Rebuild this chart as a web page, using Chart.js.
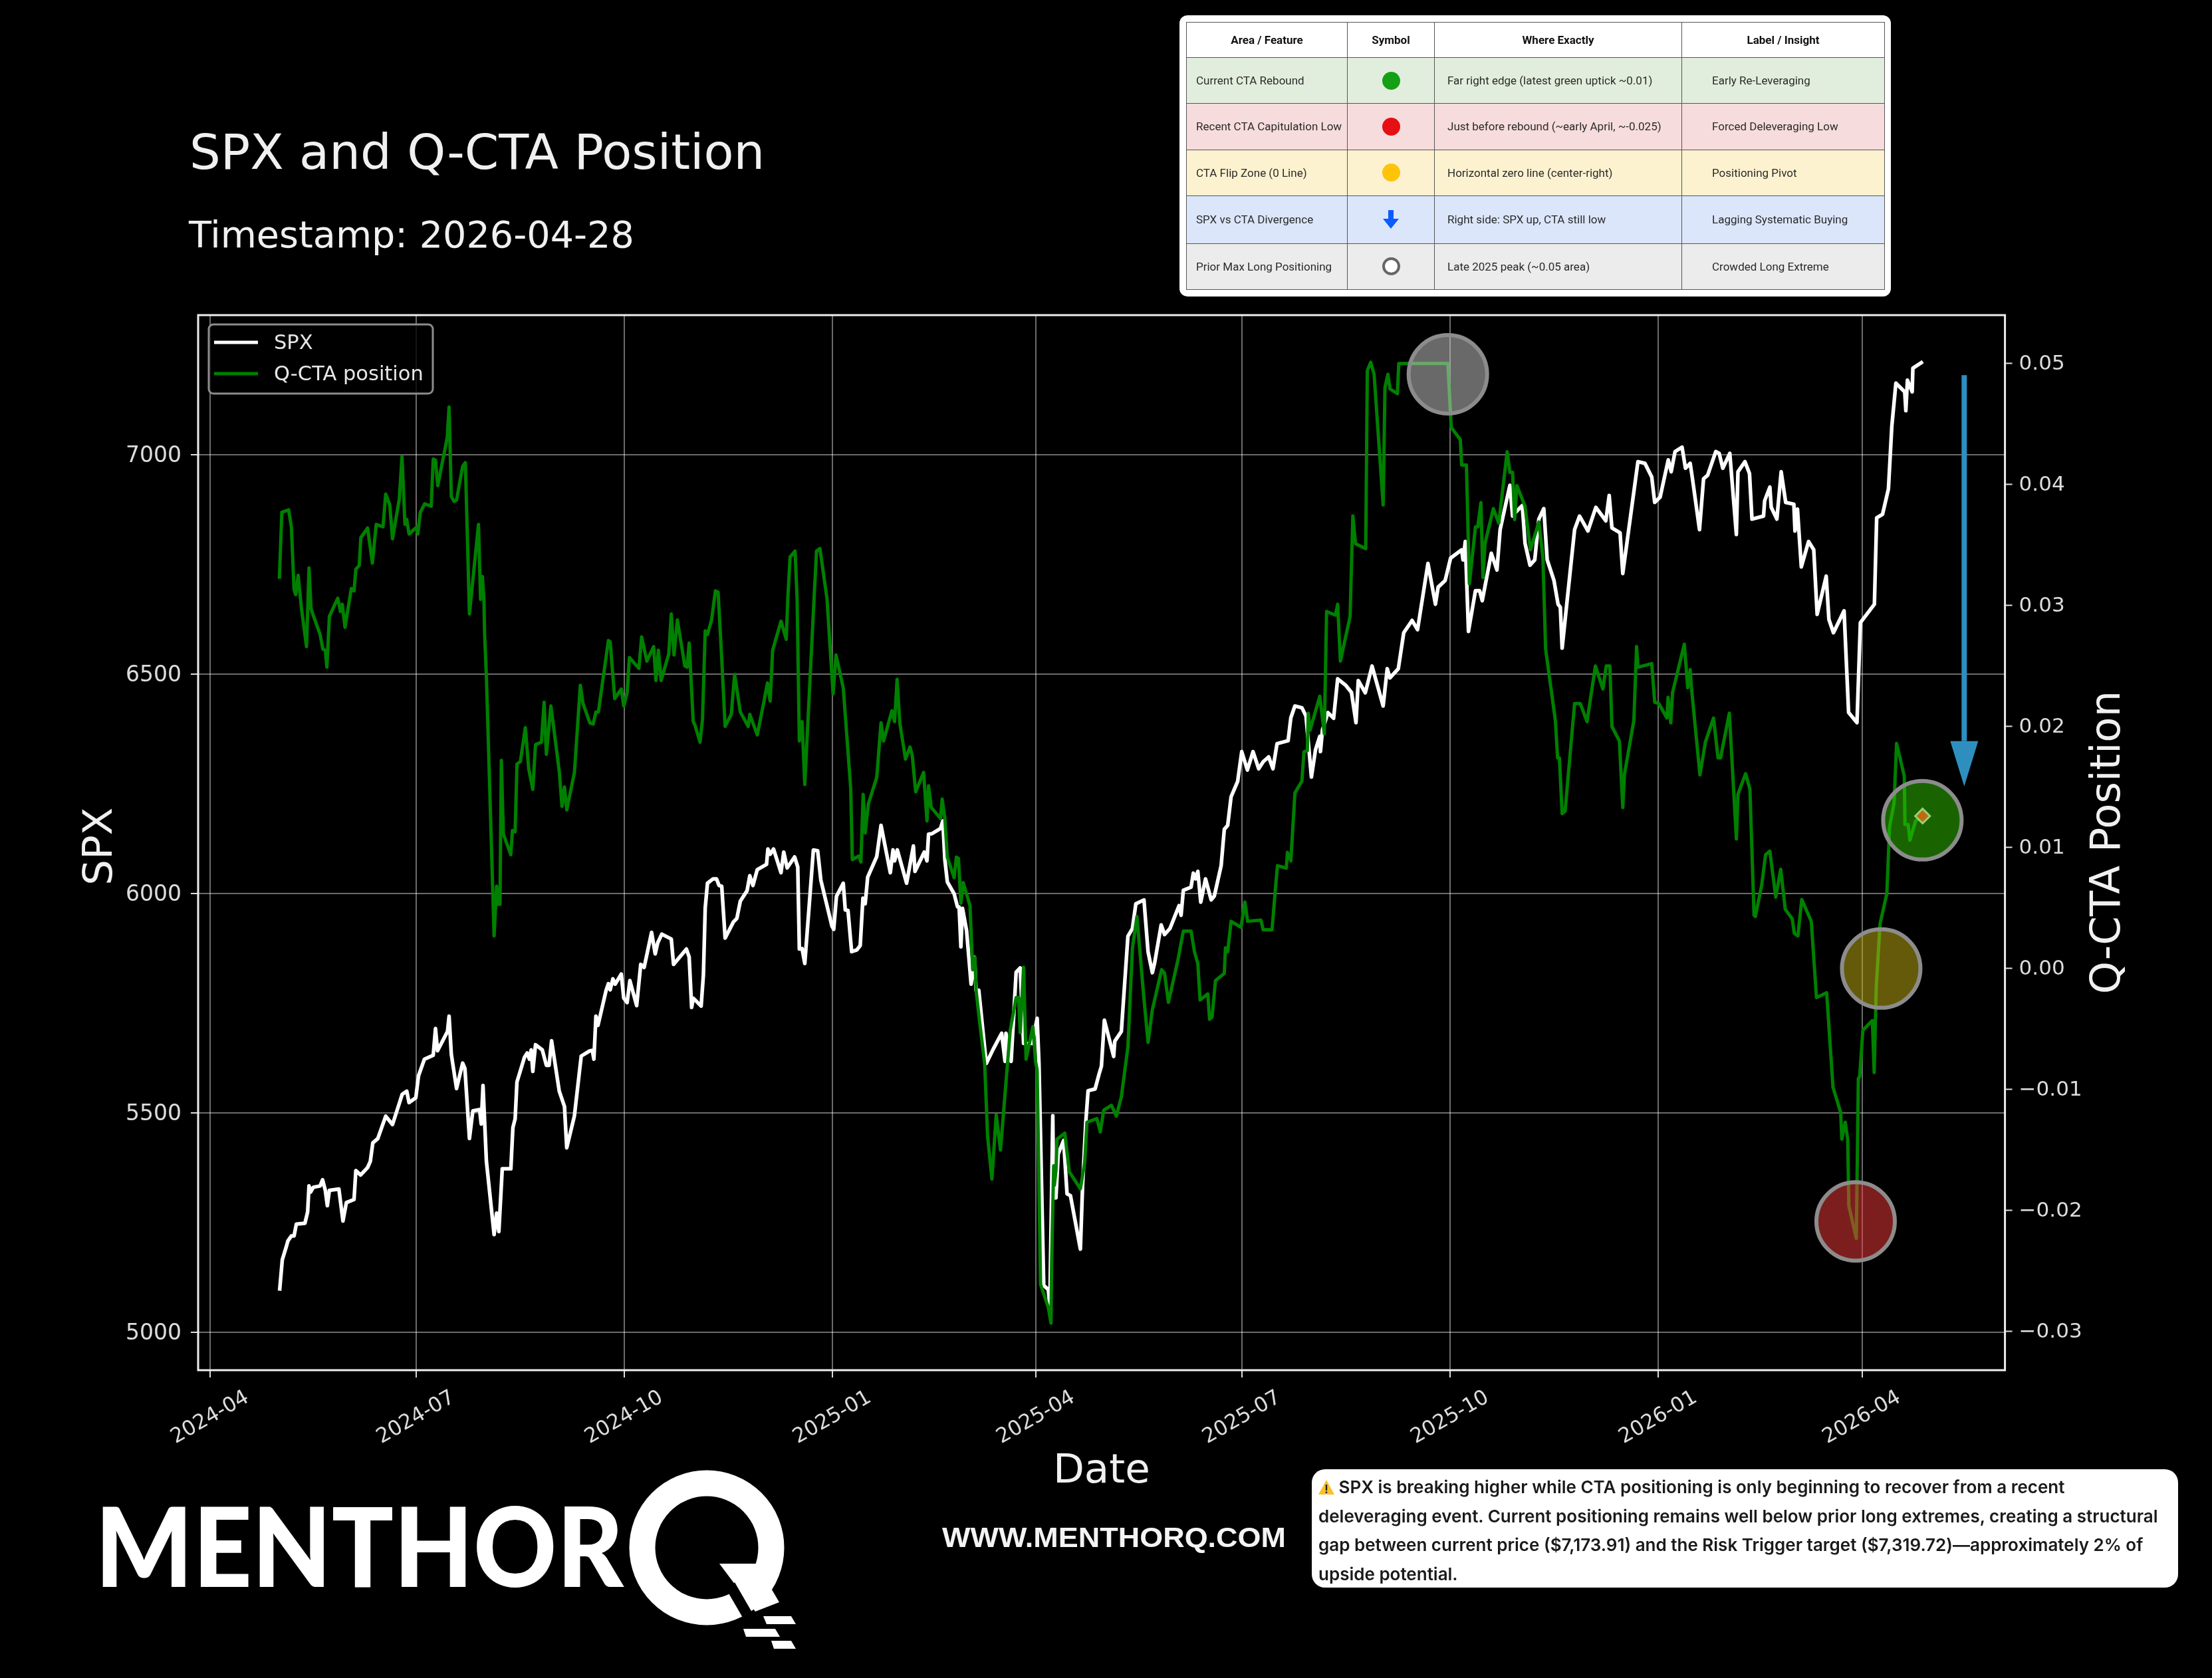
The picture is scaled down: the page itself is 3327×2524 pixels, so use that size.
<!DOCTYPE html>
<html>
<head>
<meta charset="utf-8">
<title>SPX and Q-CTA Position</title>
<script src="https://cdn.jsdelivr.net/npm/chart.js@4/dist/chart.umd.min.js"></script>
<style>
    html, body { margin: 0; background: #000; }
    #page { position: relative; width: 3327px; height: 2524px; overflow: hidden; background: #000; }
    #chart { position: absolute; left: 0; top: 0; }
    #overlay { position: absolute; left: 0; top: 0; }

    /* Legend table at the top right */
    #tableBox { position: absolute; left: 1774px; top: 23px; width: 1070px; height: 423px; background: #fff; border-radius: 12px; }
    #tableBox table { position: absolute; left: 10px; top: 10px; width: 1050px; height: 403px; border-collapse: collapse; table-layout: fixed; font: 17px Roboto, sans-serif; color: #2a2a2a; }
    #tableBox td, #tableBox th { border: 1.5px solid #555; padding: 0; white-space: nowrap; }
    #tableBox th { font-weight: 700; color: #111; text-align: center; height: 52px; background: #fff; }
    #tableBox td:nth-child(1) { padding-left: 14px; }
    #tableBox td:nth-child(2) { text-align: center; }
    #tableBox td:nth-child(3) { padding-left: 19px; }
    #tableBox td:nth-child(4) { padding-left: 45px; }
    .dot { display: inline-block; width: 27px; height: 27px; border-radius: 50%; vertical-align: middle; box-sizing: border-box; }
    .rowGreen td { background: #e2eedd; }
    .rowRed td { background: #f7dcdd; }
    .rowYellow td { background: #fdf2d0; }
    .rowBlue td { background: #dbe6fb; }
    .rowGrey td { background: #ececec; }

    /* Comment box at the bottom right */
    #note { position: absolute; left: 1973px; top: 2210px; width: 1303px; height: 178px; background: #fff; border-radius: 20px; }
    #note div { position: absolute; left: 10px; top: 5px; font: 600 26px/43.7px Inter, sans-serif; color: #1a1a1a; white-space: nowrap; }
</style>
</head>
<body>
<div id="page">
    <canvas id="chart" width="3327" height="2524"></canvas>

    <svg id="overlay" width="3327" height="2524" xmlns="http://www.w3.org/2000/svg">
        <text x="285" y="254" fill="#f0f0f0" font-family="DejaVu Sans" font-size="73.7">SPX and Q-CTA Position</text>
        <text x="284" y="372" fill="#f0f0f0" font-family="DejaVu Sans" font-size="55.6">Timestamp: 2026-04-28</text>

        <!-- MenthorQ logo -->
        <text x="143" y="2387" fill="#fff" font-family="Lato" font-weight="900" font-size="165" textLength="795" lengthAdjust="spacingAndGlyphs">MENTHOR</text>
        <circle cx="1063" cy="2328" r="97" fill="none" stroke="#fff" stroke-width="39"/>
        <polygon points="1082,2352 1138,2352 1172,2410 1136,2424" fill="#fff"/>
        <polygon points="1095,2395 1105,2380 1142,2444 1128,2452" fill="#000"/>
        <polygon points="1148,2431 1190,2431 1197,2443 1153,2443" fill="#fff"/>
        <polygon points="1118,2450 1166,2450 1173,2462 1122,2462" fill="#fff"/>
        <polygon points="1160,2468 1190,2468 1197,2480 1164,2480" fill="#fff"/>

        <text x="1417" y="2327" fill="#f4f4f4" font-family="Liberation Sans" font-weight="700" font-size="43" textLength="517" lengthAdjust="spacingAndGlyphs">WWW.MENTHORQ.COM</text>
    </svg>

    <div id="tableBox">
        <table>
            <colgroup><col style="width:242px"><col style="width:131px"><col style="width:372px"><col style="width:305px"></colgroup>
            <tr><th>Area / Feature</th><th>Symbol</th><th>Where Exactly</th><th>Label / Insight</th></tr>
            <tr class="rowGreen"><td>Current CTA Rebound</td><td><span class="dot" style="background:#14a014"></span></td><td>Far right edge (latest green uptick ~0.01)</td><td>Early Re-Leveraging</td></tr>
            <tr class="rowRed"><td>Recent CTA Capitulation Low</td><td><span class="dot" style="background:#e60f14"></span></td><td>Just before rebound (~early April, ~-0.025)</td><td>Forced Deleveraging Low</td></tr>
            <tr class="rowYellow"><td>CTA Flip Zone (0 Line)</td><td><span class="dot" style="background:#ffc30a"></span></td><td>Horizontal zero line (center-right)</td><td>Positioning Pivot</td></tr>
            <tr class="rowBlue"><td>SPX vs CTA Divergence</td><td><svg width="26" height="28" style="vertical-align:middle"><polygon points="9,0 17,0 17,13 25,13 13,28 1,13 9,13" fill="#0b5cff"/></svg></td><td>Right side: SPX up, CTA still low</td><td>Lagging Systematic Buying</td></tr>
            <tr class="rowGrey"><td>Prior Max Long Positioning</td><td><span class="dot" style="background:#fff;border:4px solid #666"></span></td><td>Late 2025 peak (~0.05 area)</td><td>Crowded Long Extreme</td></tr>
        </table>
    </div>

    <div id="note">
        <div><svg width="24" height="24" viewBox="0 0 24 24" style="vertical-align:-3px"><polygon points="12,1 24,23 0,23" fill="#fbc02d"/><rect x="10.8" y="8" width="2.4" height="9" fill="#222"/><rect x="10.8" y="18.5" width="2.4" height="2.5" fill="#222"/></svg> SPX is breaking higher while CTA positioning is only beginning to recover from a recent<br>
        deleveraging event. Current positioning remains well below prior long extremes, creating a structural<br>
        gap between current price ($7,173.91) and the Risk Trigger target ($7,319.72)—approximately 2% of<br>
        upside potential.</div>
    </div>
</div>

<script>
// Days are counted from 2024-04-01
const xTickDays = [0, 91, 183, 275, 365, 456, 548, 640, 730];
const xTickLabels = ['2024-04', '2024-07', '2024-10', '2025-01', '2025-04', '2025-07', '2025-10', '2026-01', '2026-04'];
const spxTicks = [5000, 5500, 6000, 6500, 7000];
const ctaTicks = [-0.03, -0.02, -0.01, 0, 0.01, 0.02, 0.03, 0.04, 0.05];

const spxDays = [30.7, 31.9, 33.8, 34.4, 35.9, 37.1, 38.1, 41.9, 43.1, 43.7, 44.4, 45.6, 48.6, 49.7, 50.9, 51.8, 52.7, 56.9, 58.7, 60.2, 63.6, 64.4, 66.5, 69.6, 70.8, 71.9, 74.1, 77.6, 80.6, 84.9, 86.9, 87.9, 90.9, 92.1, 94.7, 98.6, 99.6, 100.5, 104.9, 105.6, 106.6, 108.9, 111.6, 112.6, 114.6, 116.1, 119.1, 119.8, 120.6, 122.1, 125.5, 126.6, 127.6, 129.1, 132.9, 133.8, 134.8, 135.6, 138.9, 140.1, 141.1, 141.9, 142.6, 143.8, 146.8, 148.6, 149.8, 150.9, 154.3, 156.6, 157.6, 161, 164, 167.8, 168.9, 169.6, 170.5, 171.4, 175, 176, 176.8, 178, 179, 181.7, 182.8, 184.3, 185.5, 188.5, 190.3, 191.8, 195.1, 196.7, 197.8, 199.6, 203.8, 204.8, 210.5, 211.7, 212.8, 213.5, 217, 218, 218.8, 219.8, 222.3, 223.8, 224.9, 226.1, 227.6, 231.3, 232.8, 234.3, 237.3, 238.5, 239.9, 241.8, 245.9, 246.5, 247.5, 249, 252.3, 253.5, 255, 258.3, 259.7, 260.4, 261.6, 262.8, 264.6, 266.6, 268.5, 269.9, 274.8, 275.6, 276.8, 279.8, 280.7, 281.9, 283.5, 285.8, 287.3, 288.5, 289.5, 290.6, 294.6, 296.5, 300.6, 301.8, 302.5, 303.7, 307.8, 310.8, 311.5, 315.6, 316.8, 317.5, 319, 322.8, 323.8, 324.7, 325.8, 328.8, 330.3, 331, 331.8, 332.5, 334.3, 336.3, 337.8, 338.5, 339.7, 343, 346, 349.8, 351.3, 351.7, 354, 356.2, 358, 359.5, 363.3, 365.5, 366.3, 368.4, 370.4, 371.1, 372.4, 372.8, 373.8, 374.8, 377.2, 378.7, 380.2, 384.6, 385.6, 387, 388, 391.1, 392.9, 393.9, 395.2, 399.3, 399.8, 402.7, 405.6, 407.6, 409.1, 412.7, 414.5, 416.4, 417.4, 420.3, 421.8, 424.2, 428.2, 429.1, 430.1, 433.5, 434.5, 435.5, 436.5, 437.8, 439.9, 442.4, 443.8, 446.8, 448.2, 449.7, 451.2, 454.1, 455.9, 458.4, 460.9, 463.4, 465.4, 467.8, 469.7, 471.5, 476.4, 477.6, 479.4, 482.5, 484.3, 486.7, 488.5, 490.4, 490.7, 491.6, 494, 496.5, 498.3, 501.9, 504.4, 506.4, 507.4, 510.5, 513.5, 518.4, 520.2, 521.4, 525.1, 527.5, 531.2, 533.6, 538.2, 541.5, 542.7, 545.8, 548.2, 553.1, 553.7, 554.7, 556.1, 559.2, 561, 562.2, 566.2, 568.7, 570.1, 574.4, 575.6, 576.8, 579.9, 581.1, 583.3, 585.4, 587.2, 589.4, 590.9, 593.9, 595.7, 596.7, 597.5, 603, 605.2, 608.9, 612.4, 616.8, 618.3, 619.5, 623.1, 624.3, 631, 634.1, 637.1, 638.4, 640.8, 644.4, 645.7, 647.4, 650.5, 652, 654.1, 655.1, 658.2, 660, 661.8, 665.4, 666.9, 668.5, 671.6, 674.5, 675.2, 678.3, 680.3, 681.4, 686.5, 687, 689.3, 689.9, 692.4, 694.3, 696.3, 699.9, 700.4, 701.5, 703.2, 706.4, 708.7, 710.2, 714.2, 715.4, 717.4, 722.1, 724.1, 727.8, 729.3, 735.5, 736.5, 739.1, 741.7, 743.2, 745, 748.9, 749.4, 750.1, 752.2, 752.5, 756.9];
const spxValues = [5094, 5165, 5197, 5208, 5219, 5219, 5246, 5248, 5274, 5333, 5319, 5330, 5333, 5347, 5323, 5288, 5323, 5326, 5253, 5295, 5302, 5368, 5358, 5375, 5389, 5431, 5441, 5492, 5473, 5542, 5549, 5523, 5534, 5584, 5622, 5631, 5692, 5641, 5685, 5720, 5633, 5555, 5613, 5601, 5441, 5504, 5507, 5474, 5562, 5389, 5222, 5271, 5229, 5372, 5372, 5466, 5486, 5570, 5626, 5636, 5622, 5643, 5594, 5655, 5643, 5608, 5608, 5664, 5549, 5514, 5420, 5493, 5629, 5641, 5642, 5622, 5720, 5699, 5779, 5794, 5780, 5805, 5793, 5816, 5761, 5751, 5801, 5744, 5838, 5831, 5911, 5862, 5887, 5907, 5896, 5838, 5873, 5855, 5740, 5761, 5743, 5814, 5967, 6023, 6033, 6033, 6018, 6016, 5898, 5935, 5943, 5982, 6006, 6040, 6018, 6054, 6066, 6101, 6089, 6101, 6047, 6094, 6058, 6083, 6060, 5873, 5874, 5840, 5962, 6099, 6097, 6030, 5925, 5918, 5993, 6023, 5962, 5961, 5867, 5871, 5881, 5989, 5976, 6037, 6084, 6155, 6047, 6099, 6074, 6099, 6023, 6108, 6050, 6094, 6074, 6135, 6136, 6148, 6165, 6077, 6026, 5999, 5969, 5969, 5878, 5966, 5915, 5793, 5854, 5779, 5779, 5612, 5644, 5681, 5617, 5681, 5617, 5820, 5830, 5658, 5658, 5715, 5612, 5106, 5097, 5060, 5493, 5306, 5306, 5406, 5437, 5315, 5311, 5189, 5337, 5480, 5550, 5554, 5589, 5606, 5711, 5628, 5663, 5685, 5902, 5920, 5976, 5985, 5867, 5819, 5841, 5928, 5906, 5920, 5972, 5950, 6007, 6014, 6046, 6033, 6050, 5980, 6033, 5985, 5994, 6063, 6146, 6155, 6220, 6255, 6323, 6281, 6323, 6284, 6300, 6311, 6284, 6341, 6348, 6400, 6427, 6423, 6404, 6265, 6327, 6358, 6323, 6373, 6412, 6399, 6489, 6474, 6458, 6389, 6485, 6457, 6518, 6427, 6512, 6491, 6512, 6594, 6622, 6601, 6752, 6659, 6698, 6713, 6764, 6783, 6760, 6802, 6597, 6690, 6690, 6667, 6775, 6737, 6829, 6930, 6860, 6868, 6884, 6798, 6748, 6760, 6853, 6877, 6760, 6713, 6659, 6652, 6559, 6829, 6860, 6826, 6880, 6849, 6907, 6833, 6822, 6729, 6984, 6980, 6949, 6891, 6903, 6988, 6961, 7007, 7017, 6969, 6980, 6945, 6829, 6945, 6953, 7007, 7003, 6969, 7003, 6818, 6961, 6984, 6957, 6853, 6860, 6895, 6926, 6880, 6853, 6961, 6891, 6887, 6826, 6876, 6744, 6802, 6783, 6636, 6723, 6624, 6594, 6644, 6412, 6389, 6617, 6659, 6856, 6864, 6922, 7065, 7163, 7143, 7100, 7170, 7143, 7197, 7212];

const ctaDays = [30.6, 31.7, 34.7, 35.9, 37.1, 37.8, 38.9, 40.4, 42.6, 43.7, 44.6, 48.6, 49.8, 50.9, 51.6, 52.7, 56.4, 57.6, 58.4, 59.6, 62.4, 63.6, 64.4, 65.9, 66.6, 69.6, 71.7, 73.4, 76.4, 77.6, 79.4, 80.6, 83.6, 84.8, 86.1, 86.9, 87.9, 91.4, 91.8, 92.9, 94.8, 97.7, 98.6, 99.6, 100.6, 104.8, 105.6, 106.6, 107.8, 108.9, 111.6, 112.8, 114.6, 118.6, 119.5, 120.3, 121, 121.3, 122.1, 125.5, 126.6, 127.3, 128.1, 128.7, 129.6, 132.9, 133.6, 134.8, 135.6, 137.1, 139.3, 140.8, 142.6, 143.8, 146.4, 147.6, 148.6, 150.6, 154.3, 155.5, 156.6, 157.6, 161, 163.6, 164.8, 167.8, 169.3, 170.5, 171.6, 176, 176.8, 178.8, 181.7, 182.8, 184.3, 185.3, 189.5, 190.7, 193, 196, 197, 198.1, 199.3, 202.7, 203.8, 205, 206.5, 209.8, 210.8, 211.7, 213.5, 214.3, 216.5, 217.6, 218.8, 219.8, 221.6, 223.3, 224.5, 226.1, 227.6, 230.3, 231.8, 234.3, 237.8, 238.5, 241.8, 244.8, 246.3, 247.5, 248.6, 252.3, 254.6, 255.3, 256.3, 258.5, 259.4, 260.4, 261.6, 262.8, 266.9, 268, 269.5, 272.6, 275.3, 276.6, 279.8, 283.1, 283.8, 286.8, 287.6, 288.6, 289.5, 290.9, 294.6, 296.5, 297.6, 301.3, 302.5, 303.6, 304.8, 307.3, 309.3, 310.3, 311.8, 315.3, 316.8, 317.5, 318.7, 322.8, 323.5, 324.7, 325.8, 328.8, 329.8, 330.7, 331.8, 332.8, 335.8, 337, 338, 338.5, 340, 342.3, 343.6, 345.5, 347.4, 349.3, 351.8, 353.6, 356.2, 357.3, 358, 359.5, 360.6, 363.6, 364.8, 365.5, 367, 370.4, 371.6, 371.9, 372.8, 373.1, 373.8, 374.3, 377.7, 379.7, 384.6, 386.5, 387.5, 391.9, 393.4, 394.9, 398.3, 400.5, 402.7, 405.6, 407.6, 409.6, 412.5, 414.5, 416.4, 420.5, 421.8, 423.5, 427.7, 430.1, 433.5, 435, 436.5, 437.5, 440.9, 441.7, 442.8, 444.3, 448.2, 448.7, 449.7, 451.2, 455.6, 457.3, 458.5, 464.4, 465.4, 469.3, 470.7, 471.7, 475.6, 476.1, 477.6, 479.4, 482.5, 483.4, 484.9, 485.3, 486.1, 490.4, 492.4, 493.4, 497.3, 498.3, 499.5, 503.8, 505, 506.2, 510.7, 511.4, 512.9, 514.4, 518.4, 519.2, 520.5, 521.4, 524.7, 525.3, 547, 548.5, 552.5, 553.1, 555.2, 556.5, 559.2, 560.2, 561.6, 562.5, 563.4, 567.1, 569.5, 573.2, 574.4, 575.6, 576.5, 577.5, 581.1, 583.5, 587.2, 589, 590.2, 594.5, 595.5, 596.3, 597.5, 598.8, 603, 605.5, 608.5, 612.2, 615.5, 617, 618.6, 619.5, 622.8, 624.3, 625, 629.2, 630.4, 631, 637.1, 638.4, 640.2, 641.7, 643.8, 644.3, 645.5, 646.3, 651.5, 653, 654.1, 654.6, 658.4, 660.8, 664.4, 666.4, 667.5, 671.4, 674.5, 675.2, 678.6, 680.5, 682.3, 682.9, 685.7, 687.4, 689.3, 691.9, 694.1, 696.1, 699.2, 700.1, 701.7, 703.4, 707.6, 709.9, 714.4, 717.2, 720.6, 721.1, 722.6, 723.7, 724.2, 727.5, 728.4, 729, 730.4, 734.6, 735.4, 736.3, 738, 741, 742.2, 744.2, 745.3, 748.7, 749, 750.4, 751.2, 753.7, 756.8];
const ctaValues = [0.0322, 0.0377, 0.0379, 0.0365, 0.0313, 0.0309, 0.0325, 0.0297, 0.0266, 0.0331, 0.0297, 0.0276, 0.0264, 0.0263, 0.0249, 0.0291, 0.0306, 0.0295, 0.0301, 0.0282, 0.0314, 0.0312, 0.033, 0.0333, 0.0356, 0.0364, 0.0335, 0.0367, 0.0365, 0.0392, 0.0383, 0.0355, 0.0388, 0.0423, 0.0367, 0.0371, 0.0359, 0.0365, 0.0359, 0.0377, 0.0384, 0.0382, 0.0421, 0.042, 0.0399, 0.0439, 0.0464, 0.039, 0.0386, 0.0387, 0.0415, 0.0418, 0.0293, 0.0367, 0.0305, 0.0324, 0.0305, 0.0277, 0.0241, 0.0027, 0.0068, 0.0053, 0.0053, 0.0172, 0.0111, 0.0094, 0.0114, 0.0113, 0.0169, 0.0171, 0.0199, 0.0165, 0.0148, 0.0185, 0.0187, 0.022, 0.0177, 0.0217, 0.0163, 0.0134, 0.015, 0.0131, 0.0162, 0.0234, 0.0219, 0.0203, 0.0202, 0.0212, 0.0212, 0.0271, 0.027, 0.0223, 0.0231, 0.0217, 0.0228, 0.0257, 0.0248, 0.0274, 0.0254, 0.0266, 0.0238, 0.0263, 0.0238, 0.026, 0.0293, 0.0259, 0.0288, 0.025, 0.0249, 0.0269, 0.0204, 0.0201, 0.0187, 0.0206, 0.0279, 0.0276, 0.0288, 0.0312, 0.0311, 0.0256, 0.02, 0.021, 0.0243, 0.0212, 0.02, 0.021, 0.0193, 0.0221, 0.0236, 0.0221, 0.0263, 0.0287, 0.0272, 0.0306, 0.034, 0.0345, 0.0306, 0.0188, 0.0204, 0.0152, 0.0306, 0.0345, 0.0347, 0.0306, 0.0227, 0.0259, 0.0232, 0.0149, 0.009, 0.0093, 0.0088, 0.0144, 0.0112, 0.0136, 0.0158, 0.0203, 0.0188, 0.0213, 0.0204, 0.0239, 0.0203, 0.0173, 0.0183, 0.0176, 0.0146, 0.0162, 0.0122, 0.0151, 0.0133, 0.0124, 0.014, 0.0124, 0.0092, 0.0075, 0.0092, 0.0091, 0.0054, 0.0071, 0.0052, -0.0001, 0.0009, -0.0018, -0.0043, -0.0079, -0.0139, -0.0174, -0.0121, -0.015, -0.0092, -0.0051, -0.0024, -0.0024, -0.0053, 0.0001, -0.0075, -0.0048, -0.0077, -0.0084, -0.0261, -0.028, -0.0293, -0.0242, -0.0163, -0.0179, -0.0167, -0.0141, -0.0136, -0.0168, -0.0182, -0.016, -0.0127, -0.0124, -0.0135, -0.0117, -0.0113, -0.0122, -0.0106, -0.0065, 0.0017, 0.0043, -0.0021, -0.0061, -0.0034, -0.0001, -0.0004, -0.0028, 0.0007, 0.0031, 0.0031, 0.0014, 0.0004, -0.0026, -0.0021, -0.0042, -0.004, -0.001, -0.0004, 0.0017, 0.0014, 0.0039, 0.0034, 0.0055, 0.0039, 0.004, 0.0032, 0.0032, 0.0064, 0.0085, 0.0083, 0.0096, 0.0089, 0.0145, 0.0155, 0.0179, 0.018, 0.0211, 0.0197, 0.0225, 0.0194, 0.0295, 0.0292, 0.0301, 0.0254, 0.0291, 0.0374, 0.0351, 0.0347, 0.0494, 0.0501, 0.0491, 0.0383, 0.048, 0.0491, 0.0479, 0.0475, 0.05, 0.05, 0.0447, 0.0437, 0.0416, 0.0416, 0.0318, 0.0365, 0.0365, 0.0385, 0.0323, 0.0351, 0.038, 0.0368, 0.0427, 0.041, 0.041, 0.0371, 0.0399, 0.0382, 0.0346, 0.0369, 0.034, 0.0264, 0.0205, 0.0174, 0.0174, 0.0128, 0.013, 0.0219, 0.0219, 0.0204, 0.025, 0.0231, 0.025, 0.025, 0.02, 0.0188, 0.0133, 0.016, 0.0205, 0.0266, 0.0249, 0.0252, 0.022, 0.0219, 0.0214, 0.0207, 0.0224, 0.0203, 0.0228, 0.0268, 0.0232, 0.0247, 0.0233, 0.016, 0.0187, 0.0207, 0.0174, 0.0174, 0.0211, 0.0107, 0.0144, 0.0161, 0.0148, 0.0044, 0.0043, 0.0069, 0.0094, 0.0097, 0.0059, 0.0082, 0.0049, 0.0041, 0.0029, 0.0027, 0.0057, 0.0039, -0.0024, -0.002, -0.0098, -0.0119, -0.0141, -0.0127, -0.0141, -0.0196, -0.0223, -0.0091, -0.0089, -0.0051, -0.0043, -0.0086, -0.0016, 0.0037, 0.0062, 0.0117, 0.0137, 0.0186, 0.0159, 0.0119, 0.0119, 0.0106, 0.0122, 0.0126];

// Highlight circles: prior max, capitulation low, flip zone, current rebound
const markerDays = [547, 727.2, 738.5, 756.7];
const markerValues = [0.0491, -0.0209, 0, 0.01225];
const markerColors = ['rgba(210,210,210,0.5)', 'rgba(250,60,60,0.5)', 'rgba(200,180,20,0.5)', 'rgba(50,200,0,0.5)'];
const latestDay = [756.8];
const latestValue = [0.0126];

// Divergence arrow on the Q-CTA axis
const arrowDay = 775.2;
const arrowTop = 0.04903;
const arrowHeadBase = 0.01879;
const arrowTip = 0.01505;

const toPoints = (xs, ys) => xs.map((x, i) => ({ x: x, y: ys[i] }));

const tickColor = '#dcdcdc';
const gridColor = 'rgba(255,255,255,0.42)';
const plotTop = 474;
const plotBottom = 2061;
const plotLeft = 298;
const plotRight = 3015.6;

// Both side titles read upwards, Chart.js would turn the right one the other way
function drawSideTitle(ctx, text, x, y, size) {
    ctx.save();
    ctx.translate(x, y);
    ctx.rotate(-Math.PI / 2);
    ctx.font = size + 'px "DejaVu Sans"';
    ctx.fillStyle = '#f0f0f0';
    ctx.textAlign = 'center';
    ctx.textBaseline = 'middle';
    ctx.fillText(text, 0, 0);
    ctx.restore();
}

// Frame, arrow, side titles and the boxed legend
const extras = {
    id: 'extras',
    beforeDatasetsDraw(chart) {
        const ctx = chart.ctx;
        const area = chart.chartArea;
        ctx.save();
        ctx.strokeStyle = '#eeeeee';
        ctx.lineWidth = 3;
        ctx.strokeRect(area.left, area.top, area.width, area.height);
        ctx.restore();
    },
    afterDatasetsDraw(chart) {
        const ctx = chart.ctx;
        const x = chart.scales.x.getPixelForValue(arrowDay);
        const y1 = chart.scales.y1;

        ctx.save();
        ctx.fillStyle = '#2e8fbf';
        ctx.fillRect(x - 4, y1.getPixelForValue(arrowTop), 8, y1.getPixelForValue(arrowHeadBase) - y1.getPixelForValue(arrowTop));
        ctx.beginPath();
        ctx.moveTo(x - 21, y1.getPixelForValue(arrowHeadBase));
        ctx.lineTo(x + 21, y1.getPixelForValue(arrowHeadBase));
        ctx.lineTo(x, y1.getPixelForValue(arrowTip));
        ctx.closePath();
        ctx.fill();
        ctx.restore();

        // Legend box
        ctx.save();
        ctx.fillStyle = 'rgba(0,0,0,0.8)';
        ctx.strokeStyle = '#8c8c8c';
        ctx.lineWidth = 3;
        ctx.beginPath();
        ctx.roundRect(314, 488, 337, 104, 7);
        ctx.fill();
        ctx.stroke();
        ctx.font = '30.5px "DejaVu Sans"';
        ctx.textBaseline = 'middle';
        [0, 1].forEach(i => {
            const ds = chart.data.datasets[i];
            const rowY = 515 + i * 47;
            ctx.fillStyle = ds.borderColor;
            ctx.fillRect(322, rowY - 2.5, 66, 5);
            ctx.fillStyle = '#e6e6e6';
            ctx.fillText(ds.label, 412, rowY + 2);
        });
        ctx.restore();

        drawSideTitle(ctx, 'SPX', 152, 1273, 61);
        drawSideTitle(ctx, 'Q-CTA Position', 3172, 1267, 62.5);
    }
};

new Chart(document.getElementById('chart'), {
    type: 'line',
    data: {
        datasets: [
            { label: 'SPX', data: toPoints(spxDays, spxValues), yAxisID: 'y', borderColor: '#ffffff', borderWidth: 5.5, borderJoinStyle: 'round', pointRadius: 0, tension: 0, order: 4 },
            { label: 'Q-CTA position', data: toPoints(ctaDays, ctaValues), yAxisID: 'y1', borderColor: '#008000', borderWidth: 5, borderJoinStyle: 'round', pointRadius: 0, tension: 0, order: 3 },
            { label: 'Highlights', data: toPoints(markerDays, markerValues), yAxisID: 'y1', showLine: false, pointRadius: 59, pointBorderWidth: 6, pointBackgroundColor: markerColors, pointBorderColor: '#8c8c8c', order: 2 },
            { label: 'Latest', data: toPoints(latestDay, latestValue), yAxisID: 'y1', showLine: false, pointStyle: 'rectRot', pointRadius: 11, pointBorderWidth: 3, pointBackgroundColor: '#c06a10', pointBorderColor: '#96d278', order: 1 }
        ]
    },
    options: {
        responsive: false,
        animation: false,
        devicePixelRatio: 1,
        layout: { autoPadding: false, padding: { top: plotTop, left: 0, right: 0, bottom: 0 } },
        plugins: { legend: { display: false }, title: { display: false }, tooltip: { enabled: false } },
        scales: {
            x: {
                type: 'linear',
                min: -5.3,
                max: 793.2,
                afterBuildTicks: s => { s.ticks = xTickDays.map(v => ({ value: v })); },
                afterFit: s => { s.height = 2524 - plotBottom; },
                grid: { color: gridColor, lineWidth: 2, tickLength: 11, tickColor: tickColor, tickWidth: 2 },
                border: { display: false },
                ticks: {
                    color: tickColor,
                    font: { family: 'DejaVu Sans', size: 31 },
                    minRotation: 30,
                    maxRotation: 30,
                    labelOffset: 56,
                    padding: 12,
                    callback: v => xTickLabels[xTickDays.indexOf(v)]
                },
                title: { display: true, text: 'Date', color: '#f0f0f0', font: { family: 'DejaVu Sans', size: 61 }, padding: { top: 0, bottom: 273 } }
            },
            y: {
                position: 'left',
                min: 4913,
                max: 7318,
                afterBuildTicks: s => { s.ticks = spxTicks.map(v => ({ value: v })); },
                afterFit: s => { s.width = plotLeft; },
                grid: { color: gridColor, lineWidth: 2, tickLength: 11, tickColor: tickColor, tickWidth: 2 },
                border: { display: false },
                ticks: { color: tickColor, font: { family: 'DejaVu Sans', size: 33 }, padding: 14, labelOffset: 3, callback: v => String(v) }
            },
            y1: {
                position: 'right',
                min: -0.03319,
                max: 0.05399,
                afterBuildTicks: s => { s.ticks = ctaTicks.map(v => ({ value: v })); },
                afterFit: s => { s.width = 3327 - plotRight; },
                grid: { drawOnChartArea: false, tickLength: 11, tickColor: tickColor, tickWidth: 2 },
                border: { display: false },
                ticks: { color: tickColor, font: { family: 'DejaVu Sans', size: 31 }, padding: 10, labelOffset: 1, callback: v => v.toFixed(2).replace('-', '\u2212') }
            }
        }
    },
    plugins: [extras]
});
</script>
</body>
</html>
